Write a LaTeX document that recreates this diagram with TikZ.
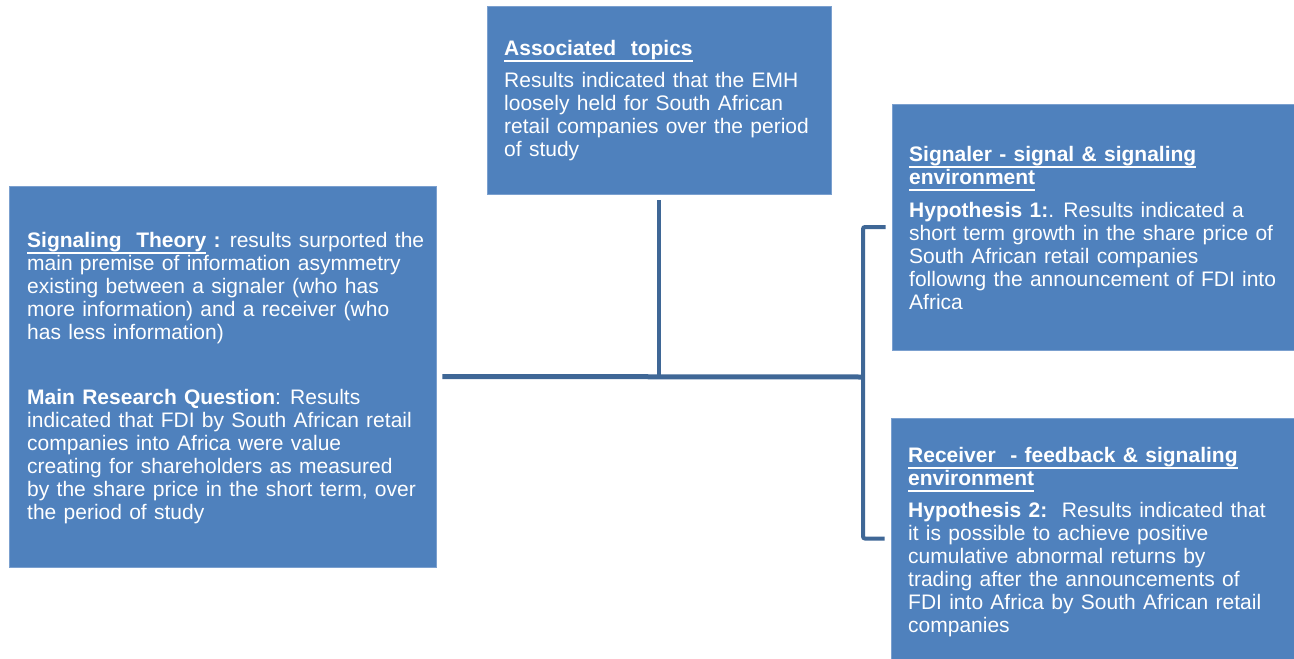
\documentclass[tikz,border=0pt]{standalone}
\usepackage{fontspec}
\setmainfont{Liberation Sans}[WordSpace=1.25]
\usetikzlibrary{calc}
\definecolor{boxfill}{HTML}{4F81BD}
\definecolor{boxedge}{HTML}{7BA0CF}
\definecolor{linkcol}{HTML}{3F6796}
% bold heading with a white rule below it
\newcommand\hd[1]{\leavevmode\setbox0\hbox{\textbf{#1}}%
  \rlap{\smash{\rule[-6.2pt]{\wd0}{1.6pt}}}\box0}
% fixed height of the first line of each text block
\newcommand\topstrut{\rule{0pt}{16pt}}
\begin{document}
\begin{tikzpicture}[x=1pt,y=-1pt,
  box/.style={rectangle,fill=boxfill,draw=boxedge,line width=0.8pt,inner sep=0pt},
  txt/.style={anchor=north west,inner sep=0pt,align=left,text=white,
    font=\fontsize{21}{23}\selectfont},
  conn/.style={draw=linkcol,line width=4pt},
  mainconn/.style={draw=linkcol,line width=5pt}]
\useasboundingbox (0,0) rectangle (1294,659);

% boxes
\node[box,minimum width=427pt,minimum height=381pt] (left) at (222.5,376.5) {};
\node[box,minimum width=344pt,minimum height=188pt] (top) at (659,100) {};
\node[box,minimum width=402pt,minimum height=246pt] (sig) at (1093,227) {};
\node[box,minimum width=403pt,minimum height=241pt] (rec) at (1092.5,538.5) {};

% texts
\node[txt] (lefttxt) at (27,231.5) {%
\topstrut\hd{Signaling\ \ Theory}\ \textbf{:} results surported the\\
main premise of information asymmetry\\
existing between a signaler (who has\\
more information) and a receiver (who\\
has less information)\\[42pt]
\textbf{Main Research Question}: Results\\
indicated that FDI by South African retail\\
companies into Africa were value\\
creating for shareholders as measured\\
by the share price in the short term, over\\
the period of study};

\node[txt] (toptxt) at (504,39.5) {%
\topstrut\hd{Associated\ \ topics}\\[9pt]
Results indicated that the EMH\\
loosely held for South African\\
retail companies over the period\\
of study};

\node[txt] (sigtxt) at (909,145.5) {%
\topstrut\hd{Signaler - signal \& signaling}\\
\hd{environment}\\[10pt]
\textbf{Hypothesis 1:}. Results indicated a\\
short term growth in the share price of\\
South African retail companies\\
followng the announcement of FDI into\\
Africa};

\node[txt] (rectxt) at (908,446.5) {%
\topstrut\hd{Receiver\ \ - feedback \& signaling}\\
\hd{environment}\\[9pt]
\textbf{Hypothesis 2:}\ \ Results indicated that\\
it is possible to achieve positive\\
cumulative abnormal returns by\\
trading after the announcements of\\
FDI into Africa by South African retail\\
companies};

% connectors
\coordinate (hub) at (863,377);
\draw[mainconn] ($(left.east)+(6,0)$) -- (hub);
\draw[conn] ($(top.south)+(0,6)$) -- (top.south |- hub);
\draw[conn,rounded corners=2pt] ($(sig.west)+(-6,0)$) -| (hub) |- ($(rec.west)+(-6,0)$);
\end{tikzpicture}
\end{document}
